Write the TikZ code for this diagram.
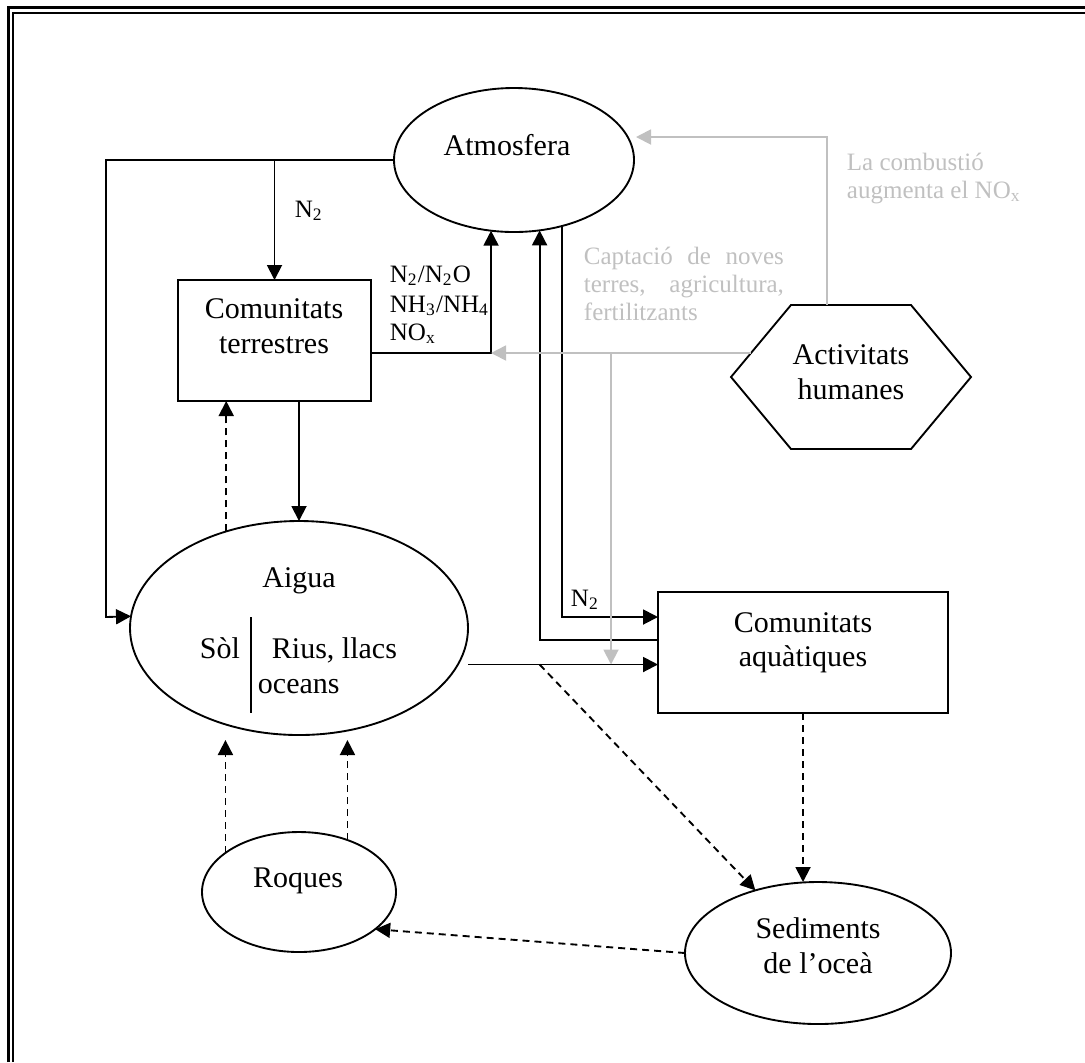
\documentclass[tikz,border=0pt]{standalone}
\usepackage{fontspec}
\setmainfont{Liberation Serif}
\usetikzlibrary{arrows.meta,shapes.geometric}
\definecolor{greyline}{RGB}{192,192,192}

\begin{document}
\begin{tikzpicture}[x=0.4pt,y=-0.4pt,line width=0.75pt,
        arr/.style={-{Triangle[length=6pt,width=6pt]}},
        darr/.style={arr,dash pattern=on 2.8pt off 2pt},
        garr/.style={arr,draw=greyline},
        oval/.style={ellipse,draw,inner sep=0pt,outer sep=0pt},
        box/.style={rectangle,draw,inner sep=0pt,outer sep=0pt},
        lbl/.style={font=\fontsize{12}{14}\selectfont,inner sep=0pt,anchor=base},
        chem/.style={font=\fontsize{10}{12}\selectfont,inner sep=0pt,anchor=base west},
        note/.style={chem,text=greyline}]
        \useasboundingbox (0,0) rectangle (1085,1062);
        \draw[line width=1.2pt] (8,1062) -- (8,7.5) -- (1085,7.5);
        \draw[line width=0.9pt] (13.3,1062) -- (13.3,13.3) -- (1085,13.3);

        \node[oval,minimum width=96pt,minimum height=57.6pt] (atm) at (514,160) {};
        \node[lbl] (atmtxt) at (507,155) {Atmosfera};
        \node[box,minimum width=77.2pt,minimum height=48.4pt] (terr) at (274.5,340.5) {};
        \node[lbl] (terrA) at (274,318) {Comunitats};
        \node[lbl] (terrB) at (274,353) {terrestres};
        \node[oval,minimum width=135.2pt,minimum height=85.6pt] (aigua) at (299,628) {};
        \node[lbl] (aiguatxt) at (299,587) {Aigua};
        \node[lbl,anchor=base west] (sol) at (199,658) {Sòl};
        \node[lbl,anchor=base west] (rius) at (271,658) {Rius, llacs};
        \node[lbl,anchor=base west] (oceans) at (257,693) {oceans};
        \draw (251,617) -- (251,713);
        \node[oval,minimum width=77.6pt,minimum height=48pt] (roques) at (299,892) {};
        \node[lbl] (roqtxt) at (298,887) {Roques};
        \node[oval,minimum width=106.4pt,minimum height=56.8pt] (sed) at (818,953) {};
        \node[lbl] (sedA) at (818,938) {Sediments};
        \node[lbl] (sedB) at (818,973) {de l’oceà};
        \node[box,minimum width=116pt,minimum height=48.4pt] (aquat) at (803,652.5) {};
        \node[lbl] (aquatA) at (803,632) {Comunitats};
        \node[lbl] (aquatB) at (803,666) {aquàtiques};
        \draw (731,377) -- (791,305) -- (911,305) -- (971,377) -- (911,449) -- (791,449) -- cycle;
        \node[lbl] (humA) at (851,364) {Activitats};
        \node[lbl] (humB) at (851,399) {humanes};

        \coordinate (cornerL) at (106,617);
        \coordinate (aqIn) at ([yshift=-4.8pt]aquat.west);
        \coordinate (tipRow) at (0,740);
        \coordinate (hexT) at (827,305);
        \coordinate (hexL) at (751,353);
        \coordinate (atmR) at (636,137);
        \coordinate (gDrop) at (611,353);

        \draw[arr] (atm.west) -| (cornerL) -- (aigua.176);
        \draw[arr] (terr.north |- atm.west) -- (terr.north);
        \draw[arr] ([yshift=-5pt]terr.east) -| (atm.252);
        \draw[arr] (aigua.north |- terr.south) -- (aigua.north);
        \draw[darr] (aigua.127) -- (aigua.127 |- terr.south);
        \draw[arr] (atm.306) |- ([yshift=14.2pt]aquat.west);
        \draw[arr] ([yshift=5pt]aquat.west) -| (atm.290);
        \draw[arr] (aigua.east |- aqIn) -- (aqIn);
        \draw[darr] (roques.152) -- (roques.152 |- tipRow);
        \draw[darr] (roques.47) -- (roques.47 |- tipRow);
        \draw[darr] (aquat.south) -- (aquat.south |- sed.north);
        \draw[darr] (atm.290 |- aqIn) -- (sed.135);
        \draw[darr] (sed.west) -- (roques.334);

        \draw[garr] (hexT) |- (atmR);
        \draw[garr] (hexL) -- (atm.252 |- hexL);
        \draw[garr] (gDrop) -- (gDrop |- aqIn);

        \node[chem] (ntop) at (294,217) {N\textsubscript{2}};
        \node[chem] (nlow) at (570,606) {N\textsubscript{2}};
        \node[chem] (gasA) at (389,282) {N\textsubscript{2}/N\textsubscript{2}O};
        \node[chem] (gasB) at (389,312) {NH\textsubscript{3}/NH\textsubscript{4}};
        \node[chem] (gasC) at (389,340) {NO\textsubscript{x}};
        \node[note] (combA) at (846,170) {La combustió};
        \node[note] (combB) at (846,198) {augmenta el NO\textsubscript{x}};
        \node[note] (captA) at (583,264) {\makebox[80pt][s]{Captació de noves}};
        \node[note] (captB) at (583,292) {\makebox[80pt][s]{terres, agricultura,}};
        \node[note] (captC) at (583,320) {fertilitzants};
    \end{tikzpicture}
\end{document}
